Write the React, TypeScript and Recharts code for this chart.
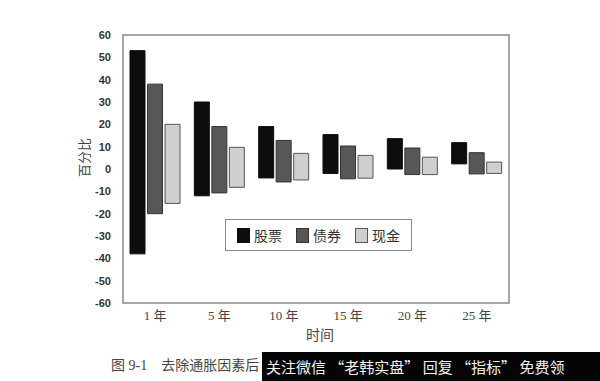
import { BarChart, Bar, XAxis, YAxis, ReferenceArea } from 'recharts';

const periods = ['1 年', '5 年', '10 年', '15 年', '20 年', '25 年'];
const stockLow = [-38, -12, -4, -2, 0, 2.3];
const stockHigh = [53, 30, 19, 15.4, 13.6, 11.8];
const bondLow = [-20, -10.7, -5.8, -4.4, -2.5, -2.2];
const bondHigh = [38, 19, 12.8, 10.3, 9.4, 7.3];
const cashLow = [-15.4, -8.2, -4.9, -4.1, -2.5, -2];
const cashHigh = [20, 9.7, 7, 6.1, 5.3, 3.1];
const yTicks = [60, 50, 40, 30, 20, 10, 0, -10, -20, -30, -40, -50, -60];

const series = [
  { key: 'stock', name: '股票', fill: '#0d0d0d', stroke: '#0d0d0d' },
  { key: 'bond', name: '债券', fill: '#575757', stroke: '#333' },
  { key: 'cash', name: '现金', fill: '#cfcfcf', stroke: '#555' },
];

const data = periods.map((p, i) => ({
  period: p,
  stock: [stockLow[i], stockHigh[i]],
  bond: [bondLow[i], bondHigh[i]],
  cash: [cashLow[i], cashHigh[i]],
}));

const serif = '"Liberation Serif", "Noto Sans CJK SC", serif';

function LegendBox() {
  return (
    <div
      style={{
        position: 'absolute',
        left: 225,
        top: 219,
        width: 185,
        height: 30,
        border: '1px solid #888',
        background: '#fff',
        display: 'flex',
        alignItems: 'center',
        justifyContent: 'center',
        gap: 14,
        fontFamily: serif,
        fontSize: 14,
        color: '#333',
      }}
    >
      {series.map((s) => (
        <span key={s.key} style={{ display: 'flex', alignItems: 'center', gap: 4 }}>
          <span style={{ width: 11, height: 13, background: s.fill, border: `1px solid ${s.stroke}` }} />
          {s.name}
        </span>
      ))}
    </div>
  );
}

export default function App() {
  return (
    <div style={{ position: 'absolute', left: 0, top: 0, width: 600, height: 381, background: '#fff', overflow: 'hidden' }}>
      <BarChart
        width={600}
        height={381}
        data={data}
        margin={{ top: 35, right: 88, left: 80, bottom: 48 }}
        barSize={15}
        barGap={2.5}
      >
        <XAxis
          dataKey="period"
          axisLine={false}
          tickLine={false}
          padding={{ left: 3, right: 3 }}
          tick={{ fontSize: 13, fill: '#444', fontFamily: serif }}
          tickMargin={2}
        />
        <YAxis
          domain={[-60, 60]}
          ticks={yTicks}
          interval={0}
          width={40}
          axisLine={false}
          tickLine={false}
          tickMargin={3}
          tick={{ fontSize: 11, fill: '#333', fontWeight: 'bold', fontFamily: '"Liberation Sans", sans-serif' }}
          label={{ value: '百分比', angle: -90, position: 'insideLeft', dx: -1, dy: 8, fill: '#444', fontSize: 13, fontFamily: serif }}
        />
        <ReferenceArea y1={-60} y2={60} fill="none" stroke="#8a8a8a" strokeWidth={1.5} ifOverflow="visible" />
        {series.map((s) => (
          <Bar key={s.key} dataKey={s.key} name={s.name} fill={s.fill} stroke={s.stroke} strokeWidth={1} isAnimationActive={false} />
        ))}
      </BarChart>
      <LegendBox />
      <div style={{ position: 'absolute', left: 300, top: 324, width: 40, textAlign: 'center', fontFamily: serif, fontSize: 14, color: '#444' }}>时间</div>
      <div style={{ position: 'absolute', left: 111, top: 354, fontFamily: serif, fontSize: 14, color: '#444', whiteSpace: 'pre' }}>
        图 9-1    去除通胀因素后
      </div>
      <div
        style={{
          position: 'absolute',
          left: 262,
          top: 352,
          width: 338,
          height: 29,
          background: '#050505',
          color: '#f2f2f2',
          fontFamily: '"Noto Sans CJK SC", sans-serif',
          fontSize: 15,
          lineHeight: '29px',
          paddingLeft: 4,
          whiteSpace: 'pre',
        }}
      >
        关注微信 “老韩实盘” 回复 “指标” 免费领
      </div>
    </div>
  );
}
